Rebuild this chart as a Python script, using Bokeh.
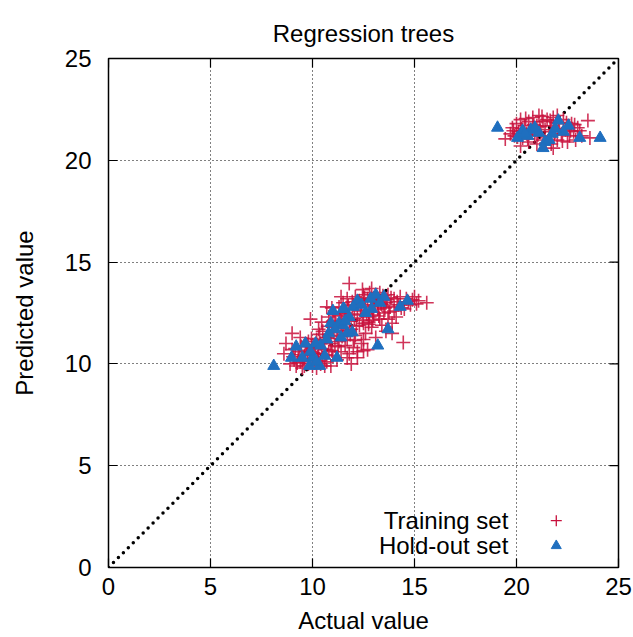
from bokeh.plotting import figure
from bokeh.models import FixedTicker, Label, Range1d
from bokeh.embed import file_html
from bokeh.resources import INLINE

# Training set (cluster around 10-15 and around 20-23)
train_x = [8.6, 8.7, 9.0, 8.9, 9.1, 9.2, 9.3, 9.4, 9.5, 9.6, 9.7, 9.8, 9.9, 9.9, 10.0, 10.0, 10.1, 10.2, 10.2,
           10.3, 10.4, 10.4, 10.5, 10.5, 10.6, 10.6, 10.7, 10.7, 10.8, 10.8, 10.9, 10.9, 11.0, 11.0, 11.1, 11.1,
           11.2, 11.2, 11.3, 11.3, 11.4, 11.4, 11.5, 11.5, 11.6, 11.6, 11.7, 11.7, 11.8, 11.8, 11.8, 11.9, 12.0,
           12.0, 12.1, 12.1, 12.2, 12.2, 12.3, 12.3, 12.4, 12.4, 12.5, 12.5, 12.6, 12.6, 12.7, 12.7, 12.8, 12.8,
           12.9, 12.9, 13.0, 13.0, 13.1, 13.1, 13.2, 13.2, 13.3, 13.3, 13.4, 13.4, 13.5, 13.5, 13.6, 13.7, 13.7,
           13.8, 13.9, 14.0, 14.0, 14.2, 14.3, 14.45, 14.5, 14.6, 14.8, 15.0, 15.2, 15.6, 13.9, 12.2, 11.0, 10.3,
           9.4, 9.0, 12.9, 11.4, 10.7, 12.5, 11.9, 13.6, 14.1, 10.1, 9.6, 9.8, 12.5, 11.7,
           9.05, 9.15, 9.25, 9.35, 9.45, 9.55, 9.65, 9.75, 9.85, 9.95,
           10.05, 10.15, 10.25, 10.35, 10.45, 10.55, 10.65, 10.75, 10.85, 10.95,
           11.05, 11.15, 11.25, 11.35, 11.45, 11.55, 11.65, 11.75, 11.85, 11.95,
           12.05, 12.15, 12.25, 12.35, 12.45, 12.55, 12.65, 12.75, 12.85, 12.95,
           13.05, 13.15, 13.25, 13.35, 13.45, 13.55, 13.65, 13.75, 13.85,
           14.15, 14.35, 14.7, 14.9, 15.1, 10.45, 10.95, 11.45, 11.95, 12.45, 12.95,
           9.75, 10.25, 11.25, 12.05, 12.75,
           19.45, 19.8, 19.9, 20.0, 20.1, 20.2, 20.3, 20.4, 20.5, 20.6, 20.6, 20.7, 20.8, 20.9, 21.0, 21.0, 21.1,
           21.2, 21.3, 21.3, 21.4, 21.5, 21.6, 21.7, 21.7, 21.8, 21.9, 22.0, 22.1, 22.2, 22.3, 22.4, 22.5, 22.6,
           22.7, 22.8, 22.9, 23.0, 23.2, 23.5, 23.6, 20.2, 21.8, 22.0, 19.7,
           19.85, 20.05, 20.25, 20.45, 20.65, 20.85, 21.05, 21.25, 21.45, 21.65,
           21.85, 22.05, 22.25, 22.45, 22.65, 22.85, 23.1, 20.55, 21.15, 21.95]
train_y = [10.5, 11.0, 11.5, 10.0, 10.2, 9.9, 10.6, 10.1, 9.8, 10.4, 10.9, 10.0, 10.6, 12.2, 9.9, 10.8, 10.2, 11.2, 9.8,
           10.5, 10.0, 11.0, 10.3, 11.6, 9.9, 10.7, 11.3, 10.1, 12.3, 10.6, 11.0, 9.9, 11.8, 10.4, 12.4, 10.9,
           11.4, 10.2, 12.8, 11.1, 10.6, 12.0, 13.0, 11.6, 10.9, 12.5, 11.2, 13.2, 13.95, 12.1, 10.5, 11.7, 12.9,
           10.8, 11.4, 13.3, 12.4, 10.3, 11.9, 13.1, 12.6, 11.0, 13.4, 12.0, 11.5, 12.9, 13.2, 10.7, 12.3, 13.5,
           11.8, 12.8, 13.1, 12.4, 13.4, 11.3, 12.7, 13.0, 12.2, 13.5, 12.9, 11.9, 13.2, 12.5, 13.0, 12.2, 13.4,
           12.8, 12.0, 13.2, 12.6, 12.9, 13.3, 11.05, 12.7, 13.2, 12.9, 13.3, 13.1, 13.0, 11.5, 10.6, 12.1, 11.7,
           11.3, 10.7, 13.7, 13.3, 12.8, 11.2, 10.0, 11.6, 12.3, 10.5, 9.9, 11.1, 10.65, 10.3,
           10.35, 10.75, 10.05, 10.45, 10.85, 10.25, 10.65, 10.45, 10.25, 11.25,
           10.55, 10.95, 10.35, 11.45, 10.75, 11.15, 10.45, 11.85, 11.25, 10.65,
           11.55, 11.95, 10.85, 12.35, 11.35, 12.15, 11.65, 12.85, 11.45, 12.45,
           12.25, 11.85, 12.95, 12.65, 12.15, 13.25, 12.45, 12.05, 13.15, 12.55,
           12.85, 13.25, 12.35, 12.95, 13.35, 12.75, 13.15, 12.55, 13.25,
           13.05, 12.75, 13.05, 13.15, 12.95, 12.05, 12.75, 12.45, 13.05, 13.65, 12.15,
           10.95, 10.15, 11.75, 11.15, 11.95,
           21.05, 21.6, 21.2, 21.8, 21.4, 22.0, 21.1, 21.7, 21.3, 21.9, 20.9, 21.5, 22.1, 21.2, 21.7, 20.8, 22.2,
           21.4, 21.0, 21.9, 21.5, 22.0, 21.2, 20.8, 21.7, 22.1, 21.4, 21.0, 21.8, 21.3, 22.0, 21.5, 20.9, 21.2,
           21.8, 21.4, 21.0, 21.6, 21.2, 21.95, 21.1, 20.7, 20.6, 22.2, 21.3,
           21.45, 21.15, 21.55, 22.05, 21.35, 21.75, 21.25, 22.15, 20.85, 21.95,
           21.25, 21.55, 20.95, 21.85, 21.45, 21.75, 21.45, 21.05, 21.65, 21.85]

# Hold-out set
hold_x = [8.1, 9.2, 9.65, 11.0, 11.55, 10.15, 8.97, 9.5, 10.9, 11.3, 10.8, 10.6, 10.0, 10.35, 11.2, 9.85, 11.7,
          12.2, 12.85, 13.5, 14.3, 14.65, 12.6, 13.3, 13.7, 13.2, 11.5, 11.95, 11.5,
          9.9, 10.4, 10.7, 11.1, 11.4, 11.8, 12.0, 12.4, 10.2, 11.6, 12.9, 13.1,
          19.07, 20.3, 20.7, 21.1, 20.05, 20.55, 21.4, 21.75, 22.05, 22.55, 23.1, 24.1, 21.3,
          20.9, 21.6, 22.3, 20.4, 21.9]
hold_y = [9.9, 10.85, 11.0, 12.6, 12.7, 11.0, 10.3, 10.3, 12.0, 12.0, 11.5, 10.4, 10.3, 9.9, 10.3, 9.9, 11.5,
          13.1, 13.2, 13.3, 12.8, 13.1, 12.5, 13.0, 11.7, 10.9, 12.7, 11.55, 11.9,
          10.6, 10.9, 11.2, 11.7, 11.3, 12.3, 12.8, 12.9, 10.1, 12.1, 12.7, 13.4,
          21.6, 21.45, 21.5, 21.35, 21.1, 21.2, 20.9, 21.3, 21.95, 21.7, 21.1, 21.1, 20.6,
          21.6, 21.0, 21.4, 21.3, 21.55]

diag = [0, 25]
ticks = [0, 5, 10, 15, 20, 25]
labels = ["Training set", "Hold-out set"]

FONT = "Liberation Sans"
RED = "#c8103c"
BLUE = "#1f6fbf"

p = figure(width=633, height=637, x_range=Range1d(0, 25), y_range=Range1d(0, 25),
           output_backend="svg", toolbar_location=None, tools="",
           min_border_left=108, min_border_right=15, min_border_top=58, min_border_bottom=70,
           title="Regression trees", x_axis_label="Actual value", y_axis_label="Predicted value")

p.title.align = "center"
p.title.vertical_align = "middle"
p.title.text_font = FONT
p.title.text_font_size = "24px"
p.title.text_font_style = "normal"
p.title.text_color = "black"
p.title.standoff = 22

p.outline_line_color = "black"
p.outline_line_width = 1.5
p.background_fill_color = "white"
p.border_fill_color = "white"

for ax in (p.xaxis[0], p.yaxis[0]):
    ax.ticker = FixedTicker(ticks=ticks)
    ax.major_tick_in = 9
    ax.major_tick_out = 0
    ax.minor_tick_line_color = None
    ax.axis_line_color = None
    ax.major_tick_line_color = "black"
    ax.major_tick_line_width = 1.2
    ax.major_label_text_font = FONT
    ax.major_label_text_font_size = "24px"
    ax.major_label_text_color = "black"
    ax.axis_label_text_font = FONT
    ax.axis_label_text_font_size = "24px"
    ax.axis_label_text_font_style = "normal"
    ax.axis_label_text_color = "black"

p.xaxis[0].major_label_standoff = 10
p.xaxis[0].axis_label_standoff = 9
p.yaxis[0].major_label_standoff = 17
p.yaxis[0].axis_label_standoff = 24

# mirrored ticks on the top and right borders (gnuplot style), from the tick list
tick_len = 9 * 25 / 509
n = len(ticks)
p.segment(x0=ticks, y0=[25] * n, x1=ticks, y1=[25 - tick_len] * n, line_color="black", line_width=1.2)
p.segment(x0=[25] * n, y0=ticks, x1=[25 - tick_len] * n, y1=ticks, line_color="black", line_width=1.2)

for g in (p.xgrid[0], p.ygrid[0]):
    g.ticker = FixedTicker(ticks=[5, 10, 15, 20])
    g.grid_line_color = "black"
    g.grid_line_width = 1
    g.grid_line_dash = "1 3"

p.line(diag, diag, line_color="black", line_width=3.5, line_dash="0 7", line_cap="round")

p.scatter(train_x, train_y, marker="cross", size=14, line_color=RED, line_width=1.6, line_alpha=0.85)
p.scatter(hold_x, hold_y, marker="triangle", size=12, fill_color=BLUE, line_color=BLUE, line_width=1)

# legend (gnuplot style: text then sample)
p.add_layout(Label(x=19.6, y=2.3, text=labels[0], text_align="right", text_baseline="middle",
                   text_font=FONT, text_font_size="24px", text_color="black"))
p.add_layout(Label(x=19.6, y=1.07, text=labels[1], text_align="right", text_baseline="middle",
                   text_font=FONT, text_font_size="24px", text_color="black"))
p.scatter([21.95], [2.3], marker="cross", size=11, line_color=RED, line_width=1.3)
p.scatter([21.95], [1.07], marker="triangle", size=10, fill_color=BLUE, line_color=BLUE)

open("out.html", "w").write(file_html(p, INLINE))
